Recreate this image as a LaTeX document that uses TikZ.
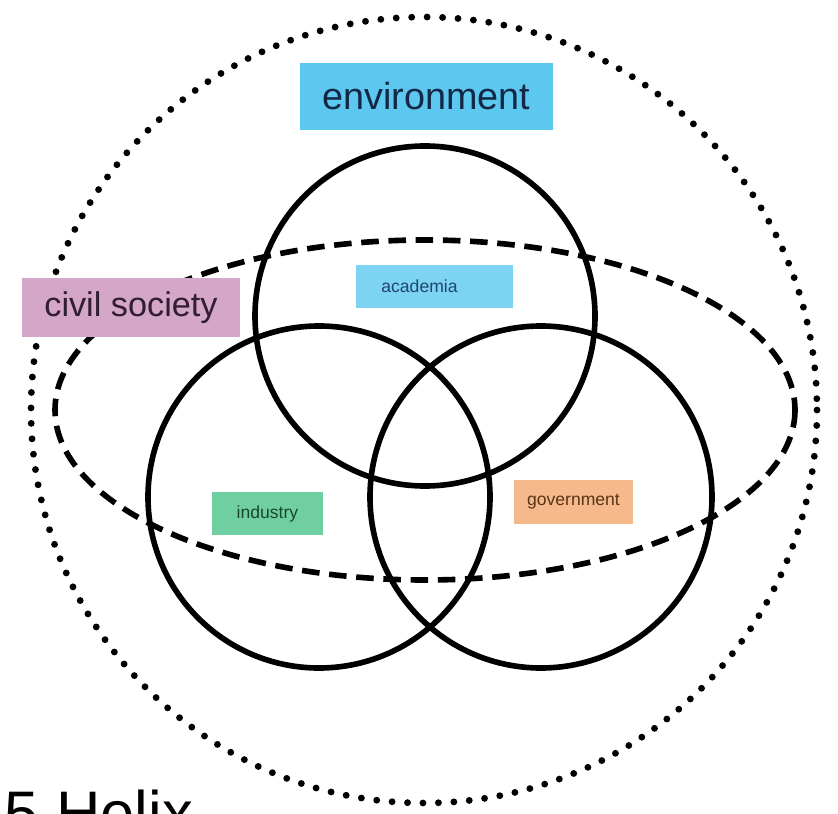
\documentclass[tikz,border=0pt]{standalone}
\usepackage{fontspec}
\setmainfont{Liberation Sans}
\usetikzlibrary{positioning}
\definecolor{envBlue}{RGB}{92,200,240}
\definecolor{acaBlue}{RGB}{125,212,242}
\definecolor{civMauve}{RGB}{212,166,200}
\definecolor{indGreen}{RGB}{112,207,160}
\definecolor{govPeach}{RGB}{246,185,139}
\definecolor{envText}{RGB}{20,40,70}
\definecolor{civText}{RGB}{50,30,50}
\definecolor{acaText}{RGB}{30,70,110}
\definecolor{indText}{RGB}{25,70,45}
\definecolor{govText}{RGB}{90,52,24}
\tikzset{
  ringln/.style={line width=3.2pt},
  dashln/.style={line width=3.2pt, dash pattern=on 10pt off 5.5pt},
  dotln/.style={line width=3.9pt, line cap=round, dash pattern=on 0pt off 8.8pt},
  tag/.style={inner sep=0pt, outer sep=0pt},
}
\begin{document}
\begin{tikzpicture}[x=0.02cm, y=-0.02cm]
  \useasboundingbox (0,0) rectangle (838,814);
  % centres of the rings
  \coordinate (outer) at (424,410);
  \coordinate (aca) at (425,316);
  \coordinate (ind) at (319,497);
  \coordinate (gov) at (541,497);
  % outer ring and civil society band
  \draw[dotln] (outer) circle [radius=393];
  \draw[dashln] (425,410) ellipse [x radius=370, y radius=170];
  % the three helices
  \draw[ringln] (aca) circle [radius=170];
  \draw[ringln] (ind) circle [radius=171];
  \draw[ringln] (gov) circle [radius=171];
  % labels
  \node[tag, fill=envBlue, text=envText, minimum width=5.06cm, minimum height=1.34cm,
    font=\fontsize{21.5}{24}\selectfont] (envLbl) at (426.5,96.5) {environment};
  \node[tag, fill=civMauve, text=civText, minimum width=4.36cm, minimum height=1.18cm,
    font=\fontsize{19.5}{22}\selectfont] (civLbl) at (131,307.5) {civil society};
  \node[tag, fill=acaBlue, text=acaText, minimum width=3.14cm, minimum height=0.86cm,
    font=\fontsize{10}{12}\selectfont] (acaLbl) at (434.5,286.5) {\hspace*{-0.6cm}academia};
  \node[tag, fill=indGreen, text=indText, minimum width=2.22cm, minimum height=0.86cm,
    font=\fontsize{10}{12}\selectfont] (indLbl) at (267.5,513.5) {industry};
  \node[tag, fill=govPeach, text=govText, minimum width=2.38cm, minimum height=0.88cm,
    font=\fontsize{10}{12}\selectfont] (govLbl) at (573.5,502) {government};
  \node[tag, anchor=base west, font=\fontsize{35}{40}\selectfont] (title) at (5,834) {5 Helix};
\end{tikzpicture}
\end{document}
